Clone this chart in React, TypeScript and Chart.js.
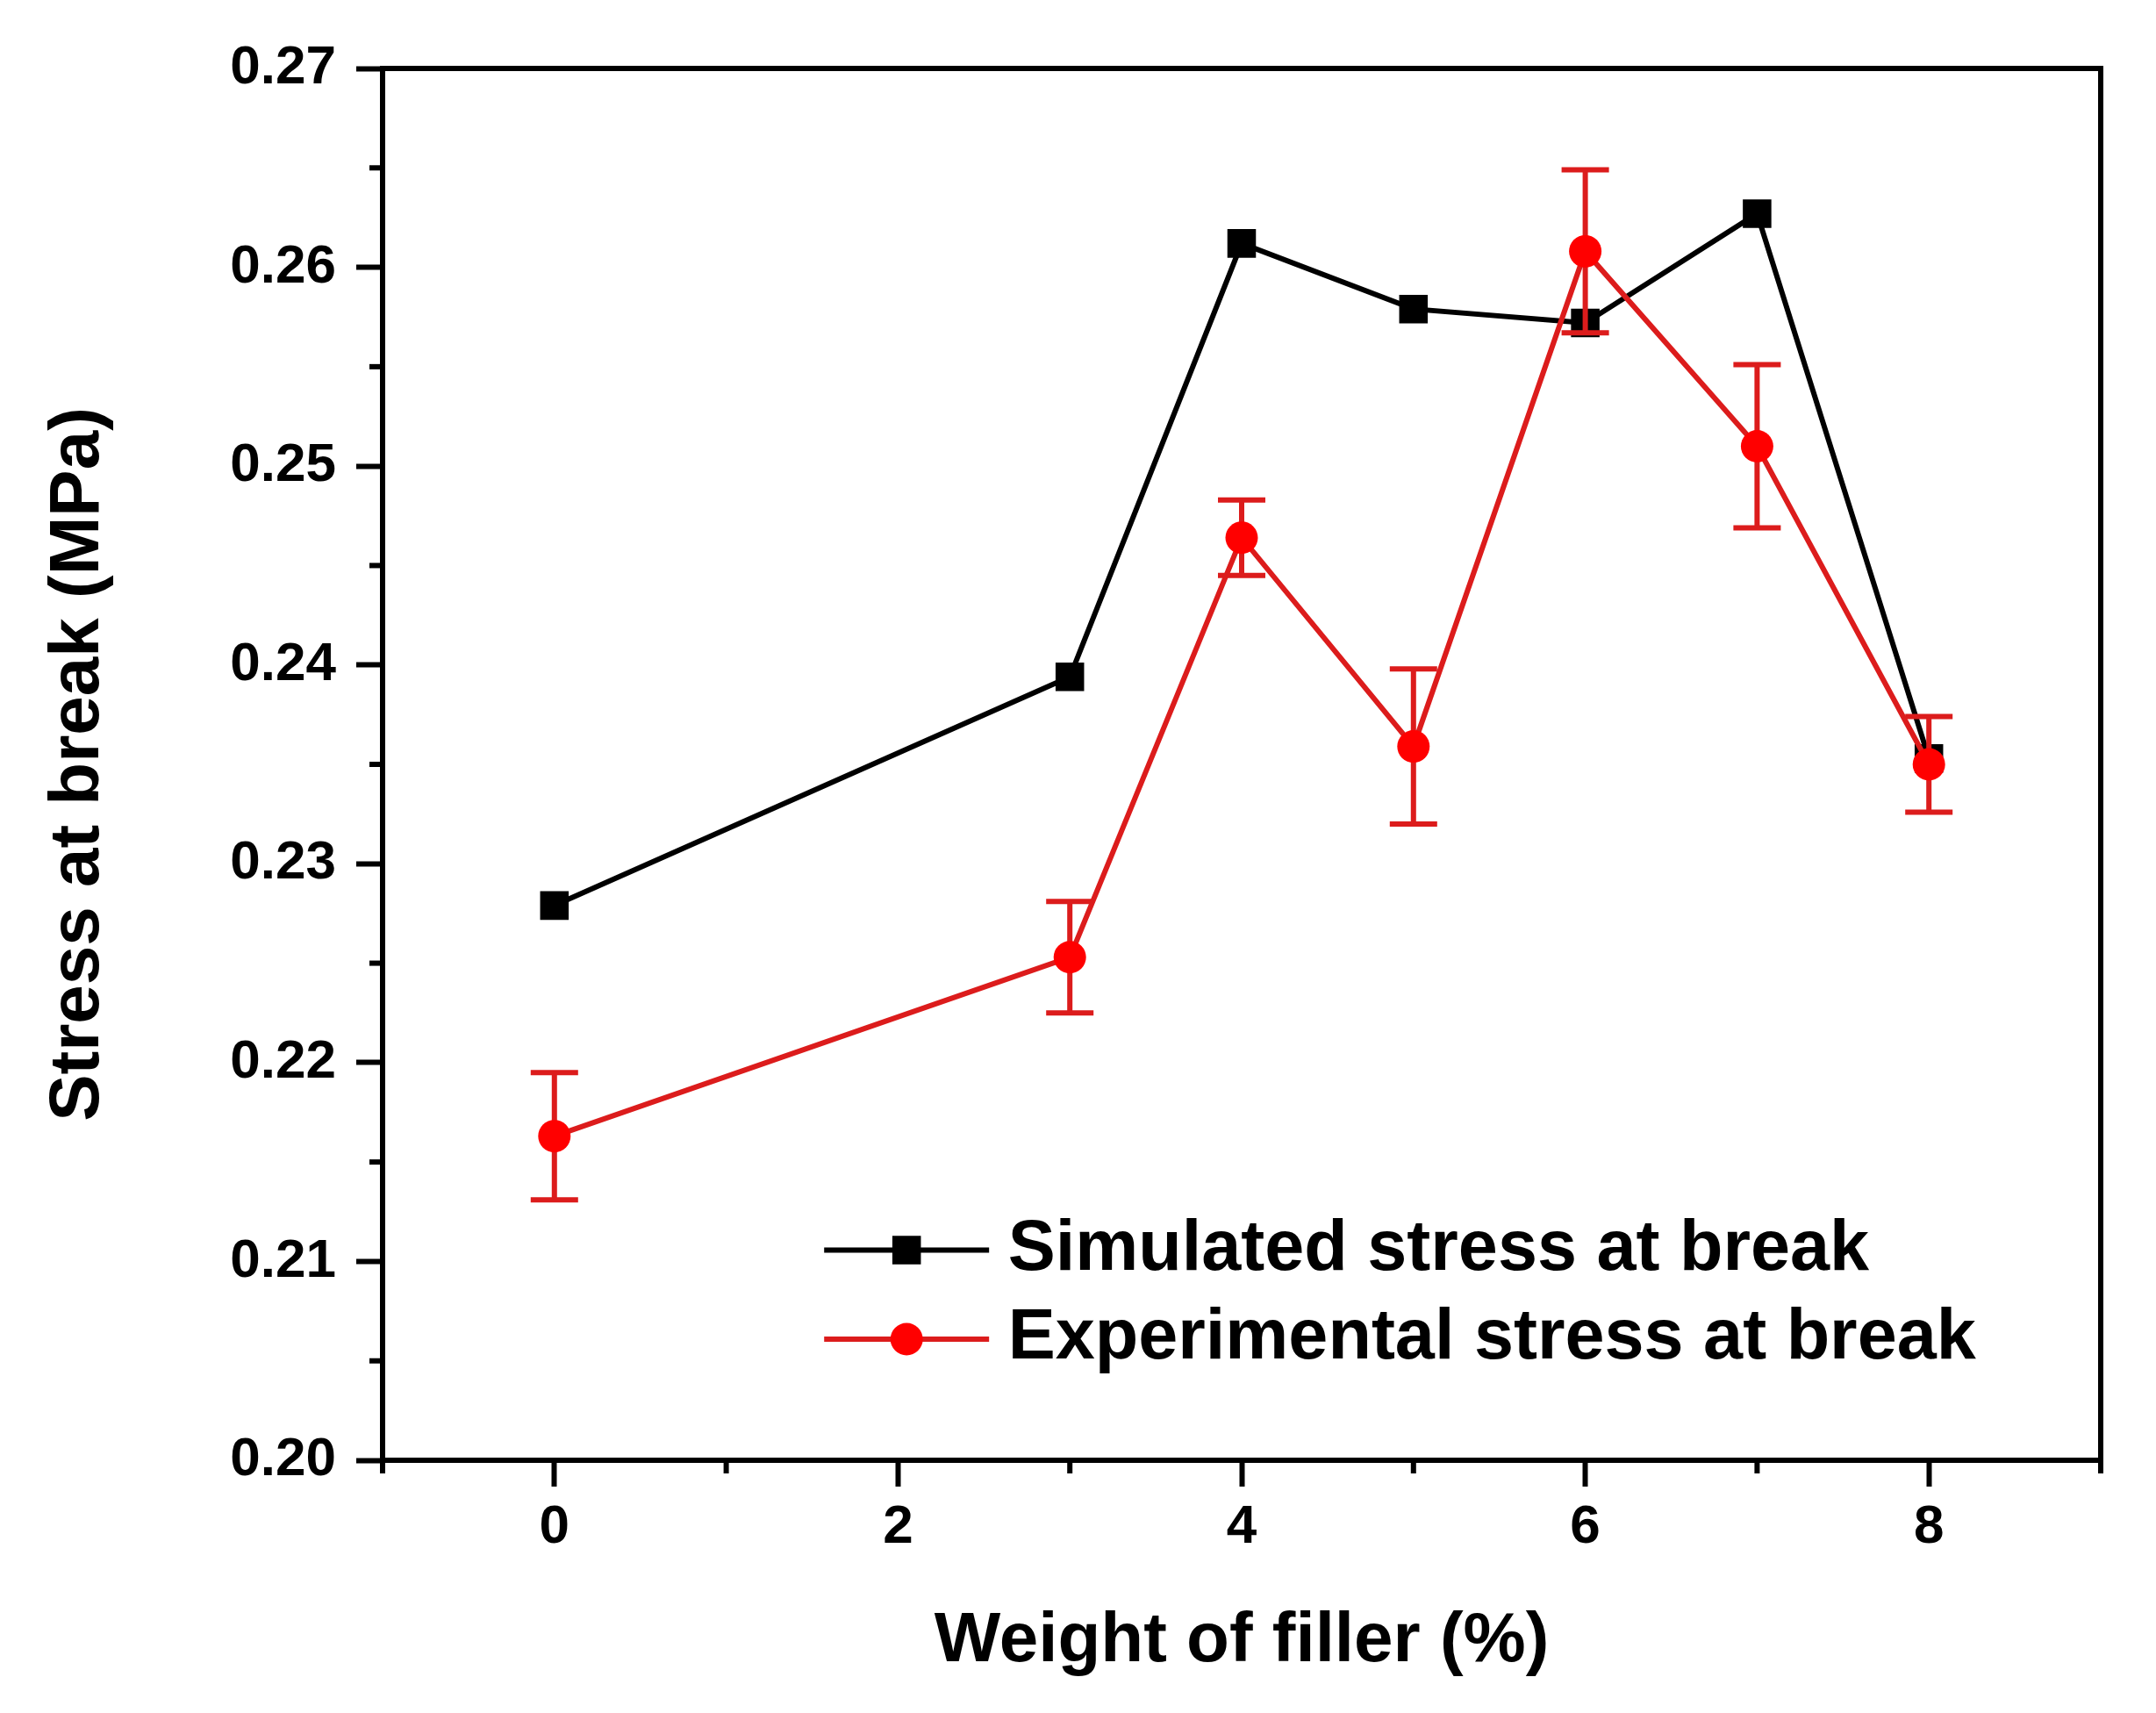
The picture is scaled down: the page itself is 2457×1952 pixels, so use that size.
import { useEffect, useRef } from "react"
import { Chart, registerables } from "chart.js"

Chart.register(...registerables)

// Values
const fillerWeight = [0, 3, 4, 5, 6, 7, 8]
const simulatedStress = [0.2279, 0.2394, 0.2612, 0.2579, 0.2572, 0.2627, 0.2353]
const experimentalStress = [0.2163, 0.2253, 0.2464, 0.2359, 0.2608, 0.251, 0.235]
const experimentalError = [0.0032, 0.0028, 0.0019, 0.0039, 0.0041, 0.0041, 0.0024]

const xMajorTicks = [0, 2, 4, 6, 8]
const xMinorTicks = [-1, 1, 3, 5, 7, 9]
const yMajorTicks = [0.2, 0.21, 0.22, 0.23, 0.24, 0.25, 0.26, 0.27]
const yMinorTicks = [0.205, 0.215, 0.225, 0.235, 0.245, 0.255, 0.265]

const seriesLabels = ["Simulated stress at break", "Experimental stress at break"]

const FONT = "'Liberation Sans', Arial, sans-serif"
const RED_LINE = "#dc1c1c"
const RED_MARK = "#ff0000"
const MAJOR_TICK = 30
const MINOR_TICK = 15
const AXIS_W = 6

const near = (list: number[], v: number) => list.some((t) => Math.abs(t - v) < 1e-9)

const minorTicksPlugin = {
  id: "minorTicks",
  afterDraw(chart: any) {
    const { ctx, chartArea, scales } = chart
    ctx.save()
    ctx.strokeStyle = "#000"
    ctx.lineWidth = AXIS_W
    xMinorTicks.forEach((v) => {
      const px = scales.x.getPixelForValue(v)
      ctx.beginPath()
      ctx.moveTo(px, chartArea.bottom)
      ctx.lineTo(px, chartArea.bottom + MINOR_TICK)
      ctx.stroke()
    })
    yMinorTicks.forEach((v) => {
      const py = scales.y.getPixelForValue(v)
      ctx.beginPath()
      ctx.moveTo(chartArea.left - MINOR_TICK, py)
      ctx.lineTo(chartArea.left, py)
      ctx.stroke()
    })
    ctx.restore()
  },
}

const errorBarsPlugin = {
  id: "errorBars",
  // drawn after the black series so the red markers sit on top
  afterDatasetDraw(chart: any, args: any) {
    if (args.index !== 0) return
    const { ctx, scales } = chart
    const capHalf = 27
    ctx.save()
    ctx.strokeStyle = RED_LINE
    ctx.lineWidth = 6
    fillerWeight.forEach((x, i) => {
      const px = scales.x.getPixelForValue(x)
      const top = scales.y.getPixelForValue(experimentalStress[i] + experimentalError[i])
      const bot = scales.y.getPixelForValue(experimentalStress[i] - experimentalError[i])
      ctx.beginPath()
      ctx.moveTo(px, top)
      ctx.lineTo(px, bot)
      ctx.moveTo(px - capHalf, top)
      ctx.lineTo(px + capHalf, top)
      ctx.moveTo(px - capHalf, bot)
      ctx.lineTo(px + capHalf, bot)
      ctx.stroke()
    })
    ctx.restore()
  },
}

const insideLegendPlugin = {
  id: "insideLegend",
  afterDraw(chart: any) {
    const { ctx, chartArea } = chart
    const w = chartArea.right - chartArea.left
    const h = chartArea.bottom - chartArea.top
    const lineStart = chartArea.left + w * 0.257
    const lineEnd = chartArea.left + w * 0.353
    const textX = chartArea.left + w * 0.364
    const rows = [chartArea.top + h * 0.849, chartArea.top + h * 0.913]
    ctx.save()
    chart.data.datasets.forEach((ds: any, i: number) => {
      const y = rows[i]
      ctx.strokeStyle = ds.borderColor
      ctx.lineWidth = ds.borderWidth
      ctx.beginPath()
      ctx.moveTo(lineStart, y)
      ctx.lineTo(lineEnd, y)
      ctx.stroke()
      const mx = (lineStart + lineEnd) / 2
      ctx.fillStyle = ds.pointBackgroundColor
      if (ds.pointStyle === "rect") {
        const s = ds.pointRadius * Math.SQRT1_2
        ctx.fillRect(mx - s, y - s, 2 * s, 2 * s)
      } else {
        ctx.beginPath()
        ctx.arc(mx, y, ds.pointRadius, 0, Math.PI * 2)
        ctx.fill()
      }
      ctx.fillStyle = "#000"
      ctx.font = `bold 81px ${FONT}`
      ctx.textAlign = "left"
      ctx.textBaseline = "middle"
      ctx.fillText(ds.label, textX, y)
    })
    ctx.restore()
  },
}

export default function App() {
  const chartRef = useRef<HTMLCanvasElement | null>(null)
  const chartInstance = useRef<Chart | null>(null)

  useEffect(() => {
    if (!chartRef.current) return
    if (chartInstance.current) chartInstance.current.destroy()

    const tickFont = { family: FONT, size: 62, weight: "bold" as const }
    const titleFont = { family: FONT, size: 80, weight: "bold" as const }

    chartInstance.current = new Chart(chartRef.current, {
      type: "line",
      data: {
        datasets: [
          {
            label: seriesLabels[0],
            data: fillerWeight.map((x, i) => ({ x, y: simulatedStress[i] })),
            borderColor: "#000",
            borderWidth: 6,
            pointStyle: "rect",
            pointRadius: 23,
            pointBackgroundColor: "#000",
            pointBorderColor: "#000",
            pointBorderWidth: 0,
            tension: 0,
            order: 1,
          },
          {
            label: seriesLabels[1],
            data: fillerWeight.map((x, i) => ({ x, y: experimentalStress[i] })),
            borderColor: RED_LINE,
            borderWidth: 6,
            pointStyle: "circle",
            pointRadius: 18.5,
            pointBackgroundColor: RED_MARK,
            pointBorderColor: RED_MARK,
            pointBorderWidth: 0,
            tension: 0,
            order: 0,
          },
        ],
      },
      options: {
        animation: false,
        responsive: true,
        maintainAspectRatio: false,
        layout: { padding: 0 },
        plugins: {
          legend: { display: false },
          tooltip: { enabled: false },
        },
        scales: {
          x: {
            type: "linear",
            position: "bottom",
            min: -1,
            max: 9,
            afterBuildTicks: (scale: any) => {
              scale.ticks = [...xMajorTicks, ...xMinorTicks]
                .sort((a, b) => a - b)
                .map((value) => ({ value }))
            },
            afterFit: (scale: any) => {
              scale.height = 288
            },
            ticks: {
              autoSkip: false,
              maxRotation: 0,
              padding: 10,
              color: "#000",
              font: tickFont,
              callback: (v: any) => (near(xMajorTicks, Number(v)) ? String(v) : ""),
            },
            grid: {
              drawOnChartArea: false,
              tickLength: MAJOR_TICK,
              tickWidth: AXIS_W,
              tickColor: (c: any) =>
                c.tick && near(xMajorTicks, c.tick.value) ? "#000" : "rgba(0,0,0,0)",
            },
            border: { display: true, color: "#000", width: AXIS_W },
            title: {
              display: true,
              text: "Weight of filler (%)",
              color: "#000",
              font: titleFont,
              padding: { top: 0, bottom: 33 },
            },
          },
          x2: {
            type: "linear",
            position: "top",
            min: -1,
            max: 9,
            afterFit: (scale: any) => {
              scale.height = 78
            },
            ticks: { display: false },
            grid: { drawOnChartArea: false, drawTicks: false },
            border: { display: true, color: "#000", width: AXIS_W },
          },
          y: {
            type: "linear",
            position: "left",
            min: 0.2,
            max: 0.27,
            afterBuildTicks: (scale: any) => {
              scale.ticks = [...yMajorTicks, ...yMinorTicks]
                .sort((a, b) => a - b)
                .map((value) => ({ value }))
            },
            afterFit: (scale: any) => {
              scale.width = 436
            },
            ticks: {
              autoSkip: false,
              padding: 23,
              color: "#000",
              font: tickFont,
              callback: (v: any) => (near(yMajorTicks, Number(v)) ? Number(v).toFixed(2) : ""),
            },
            grid: {
              drawOnChartArea: false,
              tickLength: MAJOR_TICK,
              tickWidth: AXIS_W,
              tickColor: (c: any) =>
                c.tick && near(yMajorTicks, c.tick.value) ? "#000" : "rgba(0,0,0,0)",
            },
            border: { display: true, color: "#000", width: AXIS_W },
            title: {
              display: true,
              text: "Stress at break (MPa)",
              color: "#000",
              font: titleFont,
              padding: { top: 42, bottom: 0 },
            },
          },
          y2: {
            type: "linear",
            position: "right",
            min: 0.2,
            max: 0.27,
            afterFit: (scale: any) => {
              scale.width = 63
            },
            ticks: { display: false },
            grid: { drawOnChartArea: false, drawTicks: false },
            border: { display: true, color: "#000", width: AXIS_W },
          },
        },
      },
      plugins: [errorBarsPlugin, minorTicksPlugin, insideLegendPlugin],
    })

    return () => {
      if (chartInstance.current) {
        chartInstance.current.destroy()
        chartInstance.current = null
      }
    }
  }, [])

  return (
    <div
      style={{
        position: "absolute",
        left: 0,
        top: 0,
        width: 2457,
        height: 1952,
        background: "#fff",
      }}
    >
      <canvas ref={chartRef} />
    </div>
  )
}
